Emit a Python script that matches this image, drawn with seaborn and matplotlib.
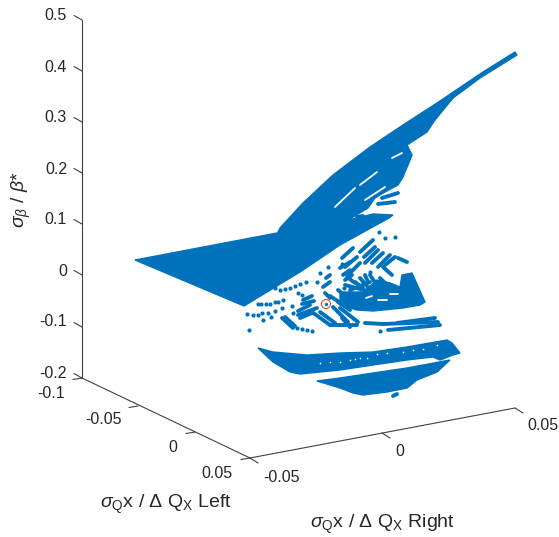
import matplotlib
matplotlib.use("Agg")
import matplotlib.pyplot as plt
import numpy as np
import pandas as pd
import seaborn as sns

BLUE = "#0072BD"
ORANGE = "#D95319"
INK = "#404040"
TXT = "#262626"

# Projected positions (screen x, screen y)
upper_wing_x = [515,483,437,403,370,333,303,280,277,300,340,353,368,375,385,398,403,405,408,412,407,427,435,453,480,517]
upper_wing_y = [52,72,103,125,147,175,203,228,234,232,226,217,208,198,192,185,177,172,165,155,145,132,120,98,78,55]
left_sheet_x = [135,277,300,340,373,393,389,340,300,244]
left_sheet_y = [260,233,228,222,214,215,218,245,272,306]
right_mass_x = [340,353,363,377,390,400,402,412,425,420,403,373,357,340]
right_mass_y = [292,292,292,280,283,287,275,273,302,305,308,311,310,305]
band1_x = [258,273,307,340,373,407,447,452,460,453,440,433,407,373,340,300,290,273]
band1_y = [348,352,355,353,352,347,340,343,353,355,360,357,360,365,370,374,372,362]
band2_x = [317,340,373,407,450,437,417,407,387,363,353,340]
band2_y = [381,378,373,368,360,372,380,388,392,395,393,388]

rows = [
    ((382,198),(398,193)), ((378,204),(395,202)), ((357,217),(363,216)),
    ((373,240),(360,252)), ((378,250),(365,263)), ((375,247),(364,257)), ((383,253),(372,263)),
    ((390,255),(378,267)), ((395,257),(385,265)), ((407,262),(398,258)), ((353,248),(342,258)),
    ((357,257),(345,267)), ((360,263),(348,275)), ((352,275),(345,280)), ((340,268),(350,262)),
    ((343,275),(350,270)), ((365,275),(368,282)), ((355,282),(363,288)), ((347,277),(355,283)),
    ((383,267),(392,275)), ((380,278),(390,288)), ((370,275),(378,287)),
    ((345,285),(375,293)), ((360,278),(372,292)), ((350,290),(370,282)), ((338,290),(350,300)),
    ((330,296),(345,306)), ((338,302),(350,310)),
    ((303,300),(312,296)), ((302,304),(314,301)), ((298,311),(310,305)), ((298,315),(317,308)),
    ((300,318),(312,313)), ((326,278),(330,275)), ((323,287),(330,282)), ((325,293),(330,298)),
    ((312,312),(330,325)), ((320,312),(335,323)), ((333,307),(348,322)), ((340,308),(358,322)),
    ((342,318),(350,327)), ((330,325),(357,325)), ((282,318),(293,328)), ((285,317),(295,326)),
    ((365,323),(383,324)), ((383,324),(438,322)), ((397,323),(435,318)), ((388,330),(440,325)),
    ((393,396),(397,394)),
]
row_ids = np.repeat(np.arange(len(rows)), 2)
row_x = [p[0] for r in rows for p in r]
row_y = [p[1] for r in rows for p in r]

gaps = [((335,207),(355,188)), ((360,185),(377,172)), ((392,158),(402,153)), ((365,200),(385,187)),
        ((378,300),(387,300)), ((390,294),(398,294)), ((366,298),(372,296))]
gap_ids = np.repeat(np.arange(len(gaps)), 2)
gap_x = [p[0] for r in gaps for p in r]
gap_y = [p[1] for r in gaps for p in r]

dots_x = [379,385,395,275,280,285,290,295,300,306,320,328,258,261,266,270,275,278,283,
          247,253,258,262,268,275,282,292,263,271,249,293,297,302,307,312,298,302,317,342,370,344,380]
dots_y = [232,238,237,288,290,289,288,286,284,282,273,267,304,304,304,304,302,302,300,
          314,315,315,313,313,311,308,306,320,317,330,313,328,329,330,331,293,295,282,264,272,288,331]

speck_x = [320,330,340,350,355,360,367,377,387,403,413,423,437]
speck_y = [363,362,362,360,359,358,358,354,353,352,350,349,345]

circle_x = [326]
circle_y = [304]

# Axis frame
z_axis_x = [82, 82]
z_axis_y = [20, 378]
left_axis_x = [82, 250]
left_axis_y = [378, 458]
right_axis_x = [250, 515]
right_axis_y = [458, 408]

z_labels = ["0.5","0.4","0.3","0.2","0.1","0","-0.1","-0.2"]
z_tick_y = [20, 71, 122, 173, 224, 275, 327, 378]
z_label_y = [16, 67, 118, 169, 220, 271, 322, 373]
left_labels = ["-0.1","-0.05","0","0.05"]
left_tick_x = [82, 138, 195, 250]
left_tick_y = [378, 406, 432, 458]
left_label_x = [51, 103, 173, 217]
left_label_y = [394, 420, 447, 473]
right_labels = ["-0.05","0","0.05"]
right_tick_x = [250, 382, 515]
right_tick_y = [458, 433, 408]
right_label_x = [281, 400, 543]
right_label_y = [477, 452, 426]

sns.set_theme(style="white")
plt.rcParams["font.family"] = ["Liberation Sans", "DejaVu Sans"]
plt.rcParams["mathtext.fontset"] = "custom"
plt.rcParams["mathtext.rm"] = "Liberation Sans"
plt.rcParams["mathtext.it"] = "Liberation Sans:italic"
plt.rcParams["mathtext.bf"] = "Liberation Sans:bold"

fig = plt.figure(figsize=(5.59, 5.37), dpi=100)
ax = fig.add_axes([0, 0, 1, 1])
ax.set_xlim(0, 559)
ax.set_ylim(537, 0)
ax.axis("off")

for fx, fy in [(upper_wing_x, upper_wing_y), (left_sheet_x, left_sheet_y),
               (right_mass_x, right_mass_y), (band1_x, band1_y), (band2_x, band2_y)]:
    ax.fill(fx, fy, color=BLUE, lw=1)

sns.lineplot(data=pd.DataFrame({"x": gap_x, "y": gap_y, "id": gap_ids}), x="x", y="y", units="id",
             estimator=None, sort=False, color="white", lw=1.3, solid_capstyle="round", ax=ax, legend=False)
sns.lineplot(data=pd.DataFrame({"x": row_x, "y": row_y, "id": row_ids}), x="x", y="y", units="id",
             estimator=None, sort=False, color=BLUE, lw=2.8, solid_capstyle="round", ax=ax, legend=False)
sns.scatterplot(x=dots_x, y=dots_y, color=BLUE, s=9, linewidth=0, ax=ax, legend=False)
sns.scatterplot(x=speck_x, y=speck_y, color="white", s=1.5, linewidth=0, ax=ax, legend=False)
sns.scatterplot(x=circle_x, y=circle_y, s=7, color="white", linewidth=0, ax=ax, legend=False)
sns.scatterplot(x=circle_x, y=circle_y, s=42, facecolor="none", edgecolor=ORANGE, linewidth=0.8, ax=ax, legend=False)
sns.scatterplot(x=circle_x, y=circle_y, s=6, color=BLUE, linewidth=0, ax=ax, legend=False)

for ax_x, ax_y in [(z_axis_x, z_axis_y), (left_axis_x, left_axis_y), (right_axis_x, right_axis_y)]:
    ax.plot(ax_x, ax_y, color=INK, lw=0.8)

for lab, ty, ly in zip(z_labels, z_tick_y, z_label_y):
    ax.plot([82, 74], [ty, ty - 4.5], color=INK, lw=0.8)
    ax.text(67, ly, lab, ha="right", va="center", fontsize=11.5, color=TXT)
for lab, tx, ty, lx, ly in zip(left_labels, left_tick_x, left_tick_y, left_label_x, left_label_y):
    ax.plot([tx, tx - 9], [ty, ty + 1.5], color=INK, lw=0.8)
    ax.text(lx, ly, lab, ha="center", va="center", fontsize=11.5, color=TXT)
for lab, tx, ty, lx, ly in zip(right_labels, right_tick_x, right_tick_y, right_label_x, right_label_y):
    ax.plot([tx, tx + 8], [ty, ty + 5], color=INK, lw=0.8)
    ax.text(lx, ly, lab, ha="center", va="center", fontsize=11.5, color=TXT)

ax.text(166, 508, r"$\sigma_{\mathrm{Q}}$x / $\Delta$ Q$_{\mathrm{X}}$ Left", ha="center", va="baseline",
        fontsize=14, color=TXT)
ax.text(382, 528, r"$\sigma_{\mathrm{Q}}$x / $\Delta$ Q$_{\mathrm{X}}$ Right", ha="center", va="baseline",
        fontsize=14, color=TXT)
ax.text(33, 200, r"$\sigma_{\beta}$ / $\beta$*", rotation=90, ha="right", va="center",
        fontsize=14, color=TXT)

fig.savefig("out.png", dpi=100)
